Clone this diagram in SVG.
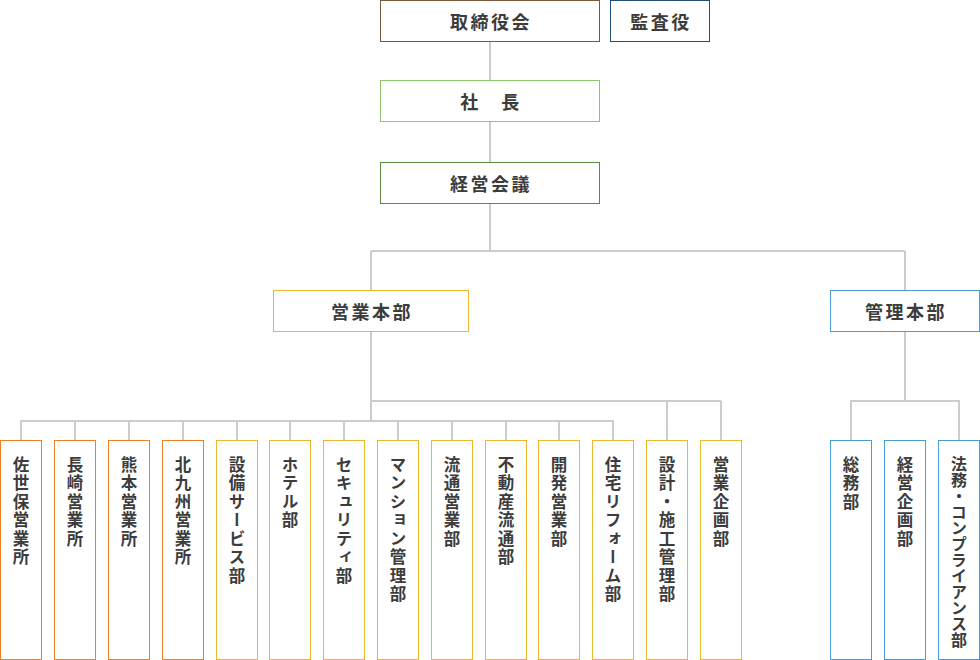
<svg xmlns="http://www.w3.org/2000/svg" width="980" height="660" viewBox="0 0 980 660">
<style>
.box{fill:#fff;stroke-width:1}
.t{font-family:"Noto Sans CJK JP","Noto Sans",sans-serif;font-weight:700;fill:#3c3c3c}
.h{font-size:18px;letter-spacing:2.5px;text-anchor:middle;dominant-baseline:central}
.v{font-size:16.5px;letter-spacing:2px;writing-mode:vertical-rl}
.or{stroke:#ee8128}
.ye{stroke:#ecb62e}
.bl{stroke:#4d9bd3}
.ln{fill:none;stroke:#cccccc;stroke-width:2}
</style>
<g id="connectors">
<path class="ln" d="M490 41V162M490 203V251M371 251H905M371 251V290M905 251V290"/>
<path class="ln" d="M371 331V421M20 421H614M21 421V440M75 421V440M129 421V440M183 421V440M237 421V440M290 421V440M344 421V440M398 421V440M452 421V440M506 421V440M559 421V440M613 421V440"/>
<path class="ln" d="M371 401H721M667 401V440M721 401V440"/>
<path class="ln" d="M905 331V401M850 401H960M851 401V440M959 401V440"/>
</g>
<g id="n-torishimariyakukai"><rect class="box" x="380.5" y="0.5" width="219" height="41" stroke="#7a5838"/><text class="t h" x="491" y="21">取締役会</text></g>
<g id="n-kansayaku"><rect class="box" x="610.5" y="0.5" width="99" height="41" stroke="#1f4f78"/><text class="t h" x="661" y="21">監査役</text></g>
<g id="n-shacho"><rect class="box" x="380.5" y="80.5" width="219" height="41" stroke="#8dc76b"/><text class="t h" x="491" y="101">社　長</text></g>
<g id="n-keieikaigi"><rect class="box" x="380.5" y="162.5" width="219" height="41" stroke="#5b8b3a"/><text class="t h" x="491" y="183">経営会議</text></g>
<g id="n-eigyohonbu"><rect class="box ye" x="273.5" y="290.5" width="195" height="41"/><text class="t h" x="372" y="311">営業本部</text></g>
<g id="n-kanrihonbu"><rect class="box bl" x="830.5" y="290.5" width="149" height="41"/><text class="t h" x="906" y="311">管理本部</text></g>
<g id="n1"><rect class="box or" x="0.5" y="440.5" width="41" height="219"/><text class="t v" x="21" y="456">佐世保営業所</text></g>
<g id="n2"><rect class="box or" x="54.5" y="440.5" width="41" height="219"/><text class="t v" x="75" y="456">長崎営業所</text></g>
<g id="n3"><rect class="box or" x="108.5" y="440.5" width="41" height="219"/><text class="t v" x="129" y="456">熊本営業所</text></g>
<g id="n4"><rect class="box or" x="162.5" y="440.5" width="41" height="219"/><text class="t v" x="183" y="456">北九州営業所</text></g>
<g id="n5"><rect class="box ye" x="216.5" y="440.5" width="41" height="219"/><text class="t v" x="237" y="456">設備サービス部</text></g>
<g id="n6"><rect class="box ye" x="269.5" y="440.5" width="41" height="219"/><text class="t v" x="290" y="456">ホテル部</text></g>
<g id="n7"><rect class="box ye" x="323.5" y="440.5" width="41" height="219"/><text class="t v" x="344" y="456">セキュリティ部</text></g>
<g id="n8"><rect class="box ye" x="377.5" y="440.5" width="41" height="219"/><text class="t v" x="398" y="456">マンション管理部</text></g>
<g id="n9"><rect class="box ye" x="431.5" y="440.5" width="41" height="219"/><text class="t v" x="452" y="456">流通営業部</text></g>
<g id="n10"><rect class="box ye" x="485.5" y="440.5" width="41" height="219"/><text class="t v" x="506" y="456">不動産流通部</text></g>
<g id="n11"><rect class="box ye" x="538.5" y="440.5" width="41" height="219"/><text class="t v" x="559" y="456">開発営業部</text></g>
<g id="n12"><rect class="box ye" x="592.5" y="440.5" width="41" height="219"/><text class="t v" x="613" y="456">住宅リフォーム部</text></g>
<g id="n13"><rect class="box ye" x="646.5" y="440.5" width="41" height="219"/><text class="t v" x="667" y="456">設計・施工管理部</text></g>
<g id="n14"><rect class="box ye" x="700.5" y="440.5" width="41" height="219"/><text class="t v" x="721" y="456">営業企画部</text></g>
<g id="n15"><rect class="box bl" x="830.5" y="440.5" width="41" height="219"/><text class="t v" x="851" y="456">総務部</text></g>
<g id="n16"><rect class="box bl" x="884.5" y="440.5" width="41" height="219"/><text class="t v" x="905" y="456">経営企画部</text></g>
<g id="n17"><rect class="box bl" x="938.5" y="440.5" width="41" height="219"/><text class="t v" x="959" y="456" style="font-size:16px;letter-spacing:0px">法務・コンプライアンス部</text></g>
</svg>
